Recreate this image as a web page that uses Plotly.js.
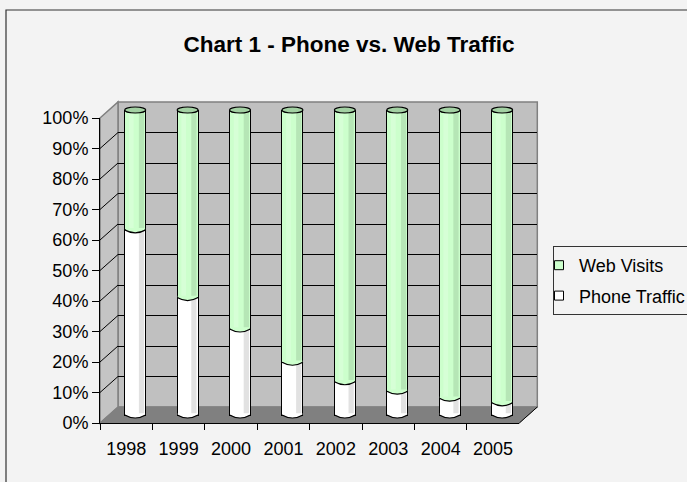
<!DOCTYPE html>
<html>
<head>
<meta charset="utf-8">
<script src="https://cdn.plot.ly/plotly-3.0.1.min.js"></script>
<style>html,body{margin:0;padding:0;background:#f3f3f3;}#chart{width:687px;height:482px;}</style>
</head>
<body>
<div id="chart"></div>
<script>
// ---- data ----
const years = ['1998', '1999', '2000', '2001', '2002', '2003', '2004', '2005'];
const phoneTraffic = [60.7, 38.5, 28.2, 17.3, 10.9, 7.8, 5.5, 4.0];
const webVisits = [39.3, 61.5, 71.8, 82.7, 89.1, 92.2, 94.5, 96.0];
const yTickVals = [0, 10, 20, 30, 40, 50, 60, 70, 80, 90, 100];
const seriesNames = ['Phone Traffic', 'Web Visits'];
const titleText = 'Chart 1 - Phone vs. Web Traffic';

// ---- geometry / style ----
const W = 687, H = 482;
const F = {l: 100, r: 519.3, b: 423, t: 118}; // front axis frame (px)
const DX = 18, DY = 16;                         // depth offset
const px = x => x / W;
const py = y => 1 - y / H;
const FONT = 'Liberation Sans, Arial, sans-serif';
const GREEN = '#ccffcc', GREEN_DARK = '#b6e6b6', GREEN_TOP = '#a3d1a3';
const WHITE = '#ffffff', WHITE_DARK = '#e2e2e2';

// bars subplot sits at mid-depth
const barY0 = F.b - DY / 2, barY100 = F.t - DY / 2;
const ppu = (barY0 - barY100) / 100;
const yLo = -3, yHi = 103;
const barDomainY = [py(barY0 - yLo * ppu), py(barY100 - (yHi - 100) * ppu)];
const barDomainX = [px(F.l + DX / 2), px(F.r + DX / 2)];
const bw = 0.4, hw = bw / 2, eh = 3 / ppu, eps = 0.012;

const idx = years.map((_, i) => i);
const totals = years.map((_, i) => phoneTraffic[i] + webVisits[i]);

const traces = [
  // wall grid subplot (x/y)
  {type: 'scatter', x: [0], y: [null], xaxis: 'x', yaxis: 'y', mode: 'markers',
   marker: {opacity: 0}, showlegend: false, hoverinfo: 'skip'},
  // bars
  {type: 'bar', x: idx, y: phoneTraffic, name: seriesNames[0], xaxis: 'x2', yaxis: 'y2',
   width: bw, marker: {color: WHITE, line: {color: '#000', width: 1}}, showlegend: false},
  {type: 'bar', x: idx, y: webVisits, name: seriesNames[1], xaxis: 'x2', yaxis: 'y2',
   width: bw, marker: {color: GREEN, line: {color: '#000', width: 1}}, showlegend: false},
  // legend entries
  {type: 'scatter', x: [null], y: [null], xaxis: 'x2', yaxis: 'y2', mode: 'markers', name: seriesNames[1],
   legendgroup: 'g1', marker: {symbol: 'square', size: 9, color: GREEN, line: {color: '#000', width: 1}}, hoverinfo: 'skip'},
  {type: 'scatter', x: [null], y: [null], xaxis: 'x2', yaxis: 'y2', mode: 'markers', name: seriesNames[0],
   legendgroup: 'g2', marker: {symbol: 'square', size: 9, color: WHITE, line: {color: '#000', width: 1}}, hoverinfo: 'skip'},
  // front axes
  {type: 'scatter', x: years, y: years.map(() => null), xaxis: 'x3', yaxis: 'y3', mode: 'markers',
   marker: {opacity: 0}, showlegend: false, hoverinfo: 'skip'}
];

const shapes = [];
const P = (x, y) => px(x).toFixed(5) + ',' + py(y).toFixed(5);
// outer chart border
shapes.push({type: 'rect', xref: 'paper', yref: 'paper', x0: px(6), x1: px(W + 20), y0: py(H + 20), y1: py(10),
  line: {color: '#333', width: 1.2}, fillcolor: 'rgba(0,0,0,0)', layer: 'below'});
// back wall
shapes.push({type: 'rect', xref: 'paper', yref: 'paper', x0: px(F.l + DX), x1: px(F.r + DX), y0: py(F.b - DY), y1: py(F.t - DY),
  fillcolor: '#c0c0c0', line: {color: '#808080', width: 1.5}, layer: 'below'});
// side wall
shapes.push({type: 'path', xref: 'paper', yref: 'paper', layer: 'below',
  path: 'M' + P(F.l, F.t) + 'L' + P(F.l + DX, F.t - DY) + 'L' + P(F.l + DX, F.b - DY) + 'L' + P(F.l, F.b) + 'Z',
  fillcolor: '#c4c4c4', line: {color: '#808080', width: 1.5}});
// floor
shapes.push({type: 'path', xref: 'paper', yref: 'paper', layer: 'below',
  path: 'M' + P(F.l, F.b) + 'L' + P(F.l + DX, F.b - DY) + 'L' + P(F.r + DX, F.b - DY) + 'L' + P(F.r, F.b) + 'Z',
  fillcolor: '#808080', line: {color: '#808080', width: 1}});
shapes.push({type: 'line', xref: 'paper', yref: 'paper', layer: 'below',
  x0: px(F.r), y0: py(F.b), x1: px(F.r + DX), y1: py(F.b - DY), line: {color: '#000', width: 1}});
// depth lines on side wall
yTickVals.forEach(v => {
  if (v === 0 || v === 100) return;
  const yf = F.b - v / 100 * (F.b - F.t);
  shapes.push({type: 'line', xref: 'paper', yref: 'paper', layer: 'below',
    x0: px(F.l), y0: py(yf), x1: px(F.l + DX), y1: py(yf - DY), line: {color: '#000', width: 1}});
});
// cylinder decorations
idx.forEach(i => {
  const p = phoneTraffic[i], t = totals[i];
  const ref = {xref: 'x2', yref: 'y2', layer: 'above'};
  // shading stripes
  shapes.push(Object.assign({type: 'rect', x0: i + 0.07, x1: i + 0.17, y0: 0, y1: p,
    fillcolor: WHITE_DARK, line: {width: 0}}, ref));
  shapes.push(Object.assign({type: 'rect', x0: i + 0.07, x1: i + 0.17, y0: p, y1: t,
    fillcolor: GREEN_DARK, line: {width: 0}}, ref));
  shapes.push(Object.assign({type: 'rect', x0: i - 0.12, x1: i - 0.03, y0: p, y1: t,
    fillcolor: '#d6ffd6', line: {width: 0}}, ref));
  // rounded bottom
  shapes.push(Object.assign({type: 'path',
    path: `M${i - hw + eps},${0.6} L${i - hw + eps},0 Q${i},${-2 * eh} ${i + hw - eps},0 L${i + hw - eps},${0.6} Z`,
    fillcolor: WHITE, line: {width: 0}}, ref));
  shapes.push(Object.assign({type: 'path',
    path: `M${i - hw},0 Q${i},${-2 * eh} ${i + hw},0`,
    line: {color: '#000', width: 1.2}}, ref));
  // rounded boundary between segments
  shapes.push(Object.assign({type: 'path',
    path: `M${i - hw + eps},${p + 0.6} L${i - hw + eps},${p} Q${i},${p - 2 * eh} ${i + hw - eps},${p} L${i + hw - eps},${p + 0.6} Z`,
    fillcolor: GREEN, line: {width: 0}}, ref));
  shapes.push(Object.assign({type: 'path',
    path: `M${i - hw},${p} Q${i},${p - 2 * eh} ${i + hw},${p}`,
    line: {color: '#000', width: 1.2}}, ref));
  // top ellipse
  shapes.push(Object.assign({type: 'circle', x0: i - hw, x1: i + hw, y0: t - eh, y1: t + eh,
    fillcolor: GREEN_TOP, line: {color: '#000', width: 1.2}}, ref));
});

const layout = {
  width: W, height: H, autosize: false,
  margin: {l: 0, r: 0, t: 0, b: 0, autoexpand: false},
  paper_bgcolor: '#f3f3f3', plot_bgcolor: 'rgba(0,0,0,0)',
  font: {family: FONT, size: 18, color: '#000'},
  barmode: 'stack',
  showlegend: true,
  title: {text: '<b>' + titleText + '</b>', x: 349 / W, xanchor: 'center', y: py(44), yanchor: 'middle',
    font: {family: FONT, size: 22.5, color: '#000'}},
  legend: {x: px(553), y: py(246), xanchor: 'left', yanchor: 'top', traceorder: 'grouped', tracegroupgap: 4,
    indentation: -15, bgcolor: 'rgba(0,0,0,0)', bordercolor: '#333', borderwidth: 1,
    font: {family: FONT, size: 18, color: '#000'}},
  // wall gridlines
  xaxis: {domain: [px(F.l + DX), px(F.r + DX)], range: [0, 1], anchor: 'y', visible: false, fixedrange: true},
  yaxis: {domain: [py(F.b - DY), py(F.t - DY)], range: [0, 100], anchor: 'x', tickmode: 'array',
    tickvals: yTickVals.filter(v => v > 0 && v < 100), showticklabels: false, ticks: '', showline: false,
    zeroline: false, showgrid: true, gridcolor: '#000', gridwidth: 1, fixedrange: true},
  // bars
  xaxis2: {domain: barDomainX, range: [-0.5, years.length - 0.5], anchor: 'y2', visible: false, fixedrange: true},
  yaxis2: {domain: barDomainY, range: [yLo, yHi], anchor: 'x2', visible: false, fixedrange: true},
  // front axes
  xaxis3: {domain: [px(F.l), px(F.r)], type: 'category', categoryorder: 'array', categoryarray: years,
    range: [-0.5, years.length - 0.5], anchor: 'y3', showline: true, linecolor: '#000', linewidth: 1,
    ticks: 'outside', tickson: 'boundaries', ticklen: 6, tickcolor: '#000', tickwidth: 1,
    ticklabelstandoff: 9, showgrid: false, zeroline: false, tickfont: {family: FONT, size: 18, color: '#000'},
    fixedrange: true},
  yaxis3: {domain: [py(F.b), py(F.t)], range: [0, 100], anchor: 'x3', tickmode: 'array', tickvals: yTickVals,
    ticktext: yTickVals.map(v => v + '%'), showline: true, linecolor: '#000', linewidth: 1,
    ticks: 'outside', ticklen: 7, tickcolor: '#000', tickwidth: 1, showgrid: false, zeroline: false,
    tickfont: {family: FONT, size: 18, color: '#000'}, fixedrange: true},
  shapes: shapes
};

Plotly.newPlot('chart', traces, layout, {staticPlot: true, displayModeBar: false});
</script>
</body>
</html>
